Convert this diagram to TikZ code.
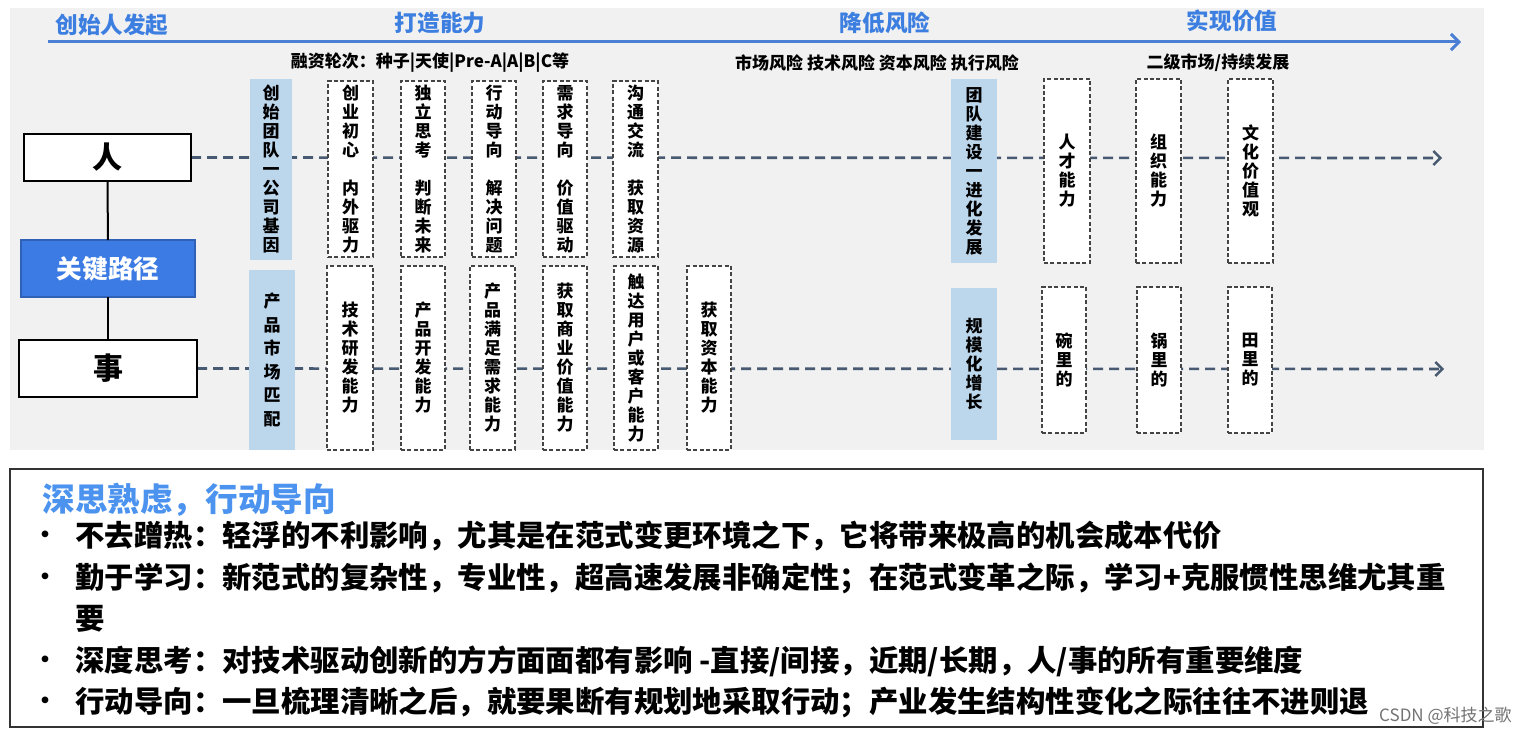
\documentclass[tikz,border=0pt]{standalone}
\usepackage{fontspec}
\setmainfont{Noto Sans CJK SC}
\usetikzlibrary{arrows.meta}
\definecolor{bgGray}{HTML}{F1F1F1}
\definecolor{hdBlue}{HTML}{3D7FE0}
\definecolor{axisBlue}{HTML}{4A7FD4}
\definecolor{keyBlue}{HTML}{3B7BE3}
\definecolor{lightBlue}{HTML}{BCD6EC}
\definecolor{dashLine}{HTML}{485A72}
\definecolor{boxLine}{HTML}{444444}
\definecolor{titleBlue}{HTML}{4B93EE}
\pgfdeclarelayer{bg}
\pgfdeclarelayer{lines}
\pgfsetlayers{bg,lines,main}
\tikzset{
  plainbox/.style={draw=black, line width=1pt, fill=white, inner sep=0pt, font=\bfseries\fontsize{15}{15}\selectfont},
  keybox/.style={draw=keyBlue!80!black, line width=0.8pt, fill=keyBlue, text=white, inner sep=0pt, font=\bfseries\fontsize{12.8}{12.8}\selectfont},
  bluecol/.style={fill=lightBlue, draw=none, inner sep=0pt, align=center, font=\bfseries\fontsize{8.5}{9.5}\selectfont},
  dashcol/.style={draw=boxLine, dash pattern=on 2pt off 1.2pt, line width=0.6pt, fill=white, inner sep=0pt, align=center, font=\bfseries\fontsize{8.5}{9.5}\selectfont},
  dasharrow/.style={draw=dashLine, line width=1.3pt, dash pattern=on 5pt off 3pt, -{Straight Barb[length=3.5pt,width=7pt,line width=1.2pt]}},
  axisline/.style={draw=axisBlue, line width=1.5pt, -{Straight Barb[length=4pt,width=8pt,line width=1.5pt]}},
  hdr/.style={text=hdBlue, font=\bfseries\fontsize{11.3}{11.3}\selectfont, inner sep=0pt},
  sublabel/.style={text=black, font=\bfseries\fontsize{8.5}{8.5}\selectfont, inner sep=0pt},
  bullettext/.style={anchor=west, inner sep=0pt, font=\bfseries\fontsize{14.7}{14.7}\selectfont},
  bulletdot/.style={inner sep=0pt, font=\bfseries\fontsize{12}{12}\selectfont},
}
% box from pixel corners (x1,y1)-(x2,y2)
\newcommand{\boxat}[7]{%
  \node[#6, minimum width={(#4-#2)*0.5pt}, minimum height={(#5-#3)*0.5pt}, outer sep=0pt]
    (#1) at ({(#2+#4)/2},{(#3+#5)/2}) {#7};}
\begin{document}
\begin{tikzpicture}[x=0.5pt,y=-0.5pt]
\useasboundingbox (0,0) rectangle (1525,733);
\begin{pgfonlayer}{bg}
  \fill[bgGray] (10,8) rectangle (1484,450);
\end{pgfonlayer}

% header
\coordinate (axS) at (48,42);
\coordinate (axE) at (1461,42);
\draw[axisline] (axS) -- (axE);
\node[hdr] (h1) at (112,25) {创始人发起};
\node[hdr] (h2) at (440,23) {打造能力};
\node[hdr] (h3) at (885,23) {降低风险};
\node[hdr] (h4) at (1232,21) {实现价值};
\node[sublabel] (s1) at (430,63) {融资轮次：种子|天使|Pre-A|A|B|C等};
\node[sublabel] (s2) at (877,63) {市场风险 技术风险 资本风险 执行风险};
\node[sublabel] (s3) at (1218,63) {二级市场/持续发展};

% left boxes
\boxat{ren}{24}{134}{191}{181}{plainbox}{人}
\boxat{key}{21}{240}{195}{297}{keybox}{关键路径}
\boxat{shi}{19}{340}{197}{397}{plainbox}{事}
\draw[line width=1pt] (ren) -- (key);
\draw[line width=1pt] (key) -- (shi);

% light blue columns
\boxat{lb1}{250}{79}{292}{260}{bluecol}{创\\始\\团\\队\\一\\公\\司\\基\\因}
\boxat{lb2}{249}{270}{295}{450}{bluecol,font=\bfseries\fontsize{8.5}{11.75}\selectfont}{产\\品\\市\\场\\匹\\配}
\boxat{lb3}{951}{79}{997}{263}{bluecol}{团\\队\\建\\设\\一\\进\\化\\发\\展}
\boxat{lb4}{951}{288}{997}{440}{bluecol}{规\\模\\化\\增\\长}

% dashed columns, top row
\boxat{d1}{328}{81}{373}{257}{dashcol}{创\\业\\初\\心\\[9.5pt]内\\外\\驱\\力}
\boxat{d2}{401}{81}{445}{257}{dashcol}{独\\立\\思\\考\\[9.5pt]判\\断\\未\\来}
\boxat{d3}{472}{81}{516}{257}{dashcol}{行\\动\\导\\向\\[9.5pt]解\\决\\问\\题}
\boxat{d4}{543}{81}{587}{257}{dashcol}{需\\求\\导\\向\\[9.5pt]价\\值\\驱\\动}
\boxat{d5}{613}{81}{658}{257}{dashcol}{沟\\通\\交\\流\\[9.5pt]获\\取\\资\\源}
% dashed columns, bottom row
\boxat{e1}{327}{266}{373}{450}{dashcol}{技\\术\\研\\发\\能\\力}
\boxat{e2}{401}{266}{445}{450}{dashcol}{产\\品\\开\\发\\能\\力}
\boxat{e3}{470}{266}{515}{450}{dashcol}{产\\品\\满\\足\\需\\求\\能\\力}
\boxat{e4}{543}{266}{587}{450}{dashcol}{获\\取\\商\\业\\价\\值\\能\\力}
\boxat{e5}{614}{266}{658}{450}{dashcol}{触\\达\\用\\户\\或\\客\\户\\能\\力}
\boxat{e6}{687}{266}{731}{450}{dashcol}{获\\取\\资\\本\\能\\力}
% right columns
\boxat{r1}{1044}{79}{1090}{263}{dashcol}{人\\才\\能\\力}
\boxat{r2}{1136}{79}{1181}{263}{dashcol}{组\\织\\能\\力}
\boxat{r3}{1228}{79}{1273}{263}{dashcol}{文\\化\\价\\值\\观}
\boxat{t1}{1042}{287}{1086}{433}{dashcol}{碗\\里\\的}
\boxat{t2}{1137}{287}{1181}{433}{dashcol}{锅\\里\\的}
\boxat{t3}{1228}{287}{1272}{433}{dashcol}{田\\里\\的}

% dashed arrows behind the columns
\coordinate (renEnd) at (1442,158);
\coordinate (shiEnd) at (1444,369);
\begin{pgfonlayer}{lines}
  \draw[dasharrow] (ren.east) -- (renEnd);
  \draw[dasharrow] (shi.east) -- (shiEnd);
\end{pgfonlayer}

% bottom note
\boxat{note}{10}{469}{1483}{727}{draw=black!80, line width=1pt, fill=white, inner sep=0pt}{}
\node[anchor=west, inner sep=0pt, text=titleBlue, font=\bfseries\fontsize{16.3}{16.3}\selectfont] (title) at (42,500) {深思熟虑，行动导向};
\node[bulletdot] (b1) at (45,537) {•};
\node[bulletdot] (b2) at (45,579) {•};
\node[bulletdot] (b3) at (45,662) {•};
\node[bulletdot] (b4) at (45,703) {•};
\node[bullettext] (l1) at (75,536) {不去蹭热：轻浮的不利影响，尤其是在范式变更环境之下，它将带来极高的机会成本代价};
\node[bullettext] (l2) at (75,578) {勤于学习：新范式的复杂性，专业性，超高速发展非确定性；在范式变革之际，学习+克服惯性思维尤其重};
\node[bullettext] (l2b) at (75,619) {要};
\node[bullettext] (l3) at (75,661) {深度思考：对技术驱动创新的方方面面都有影响 -直接/间接，近期/长期，人/事的所有重要维度};
\node[bullettext] (l4) at (75,702) {行动导向：一旦梳理清晰之后，就要果断有规划地采取行动；产业发生结构性变化之际往往不进则退};
\node[anchor=east, inner sep=0pt, text=black!55, font=\fontsize{8.5}{8.5}\selectfont] (wm) at (1512,716) {CSDN @科技之歌};
\end{tikzpicture}
\end{document}
